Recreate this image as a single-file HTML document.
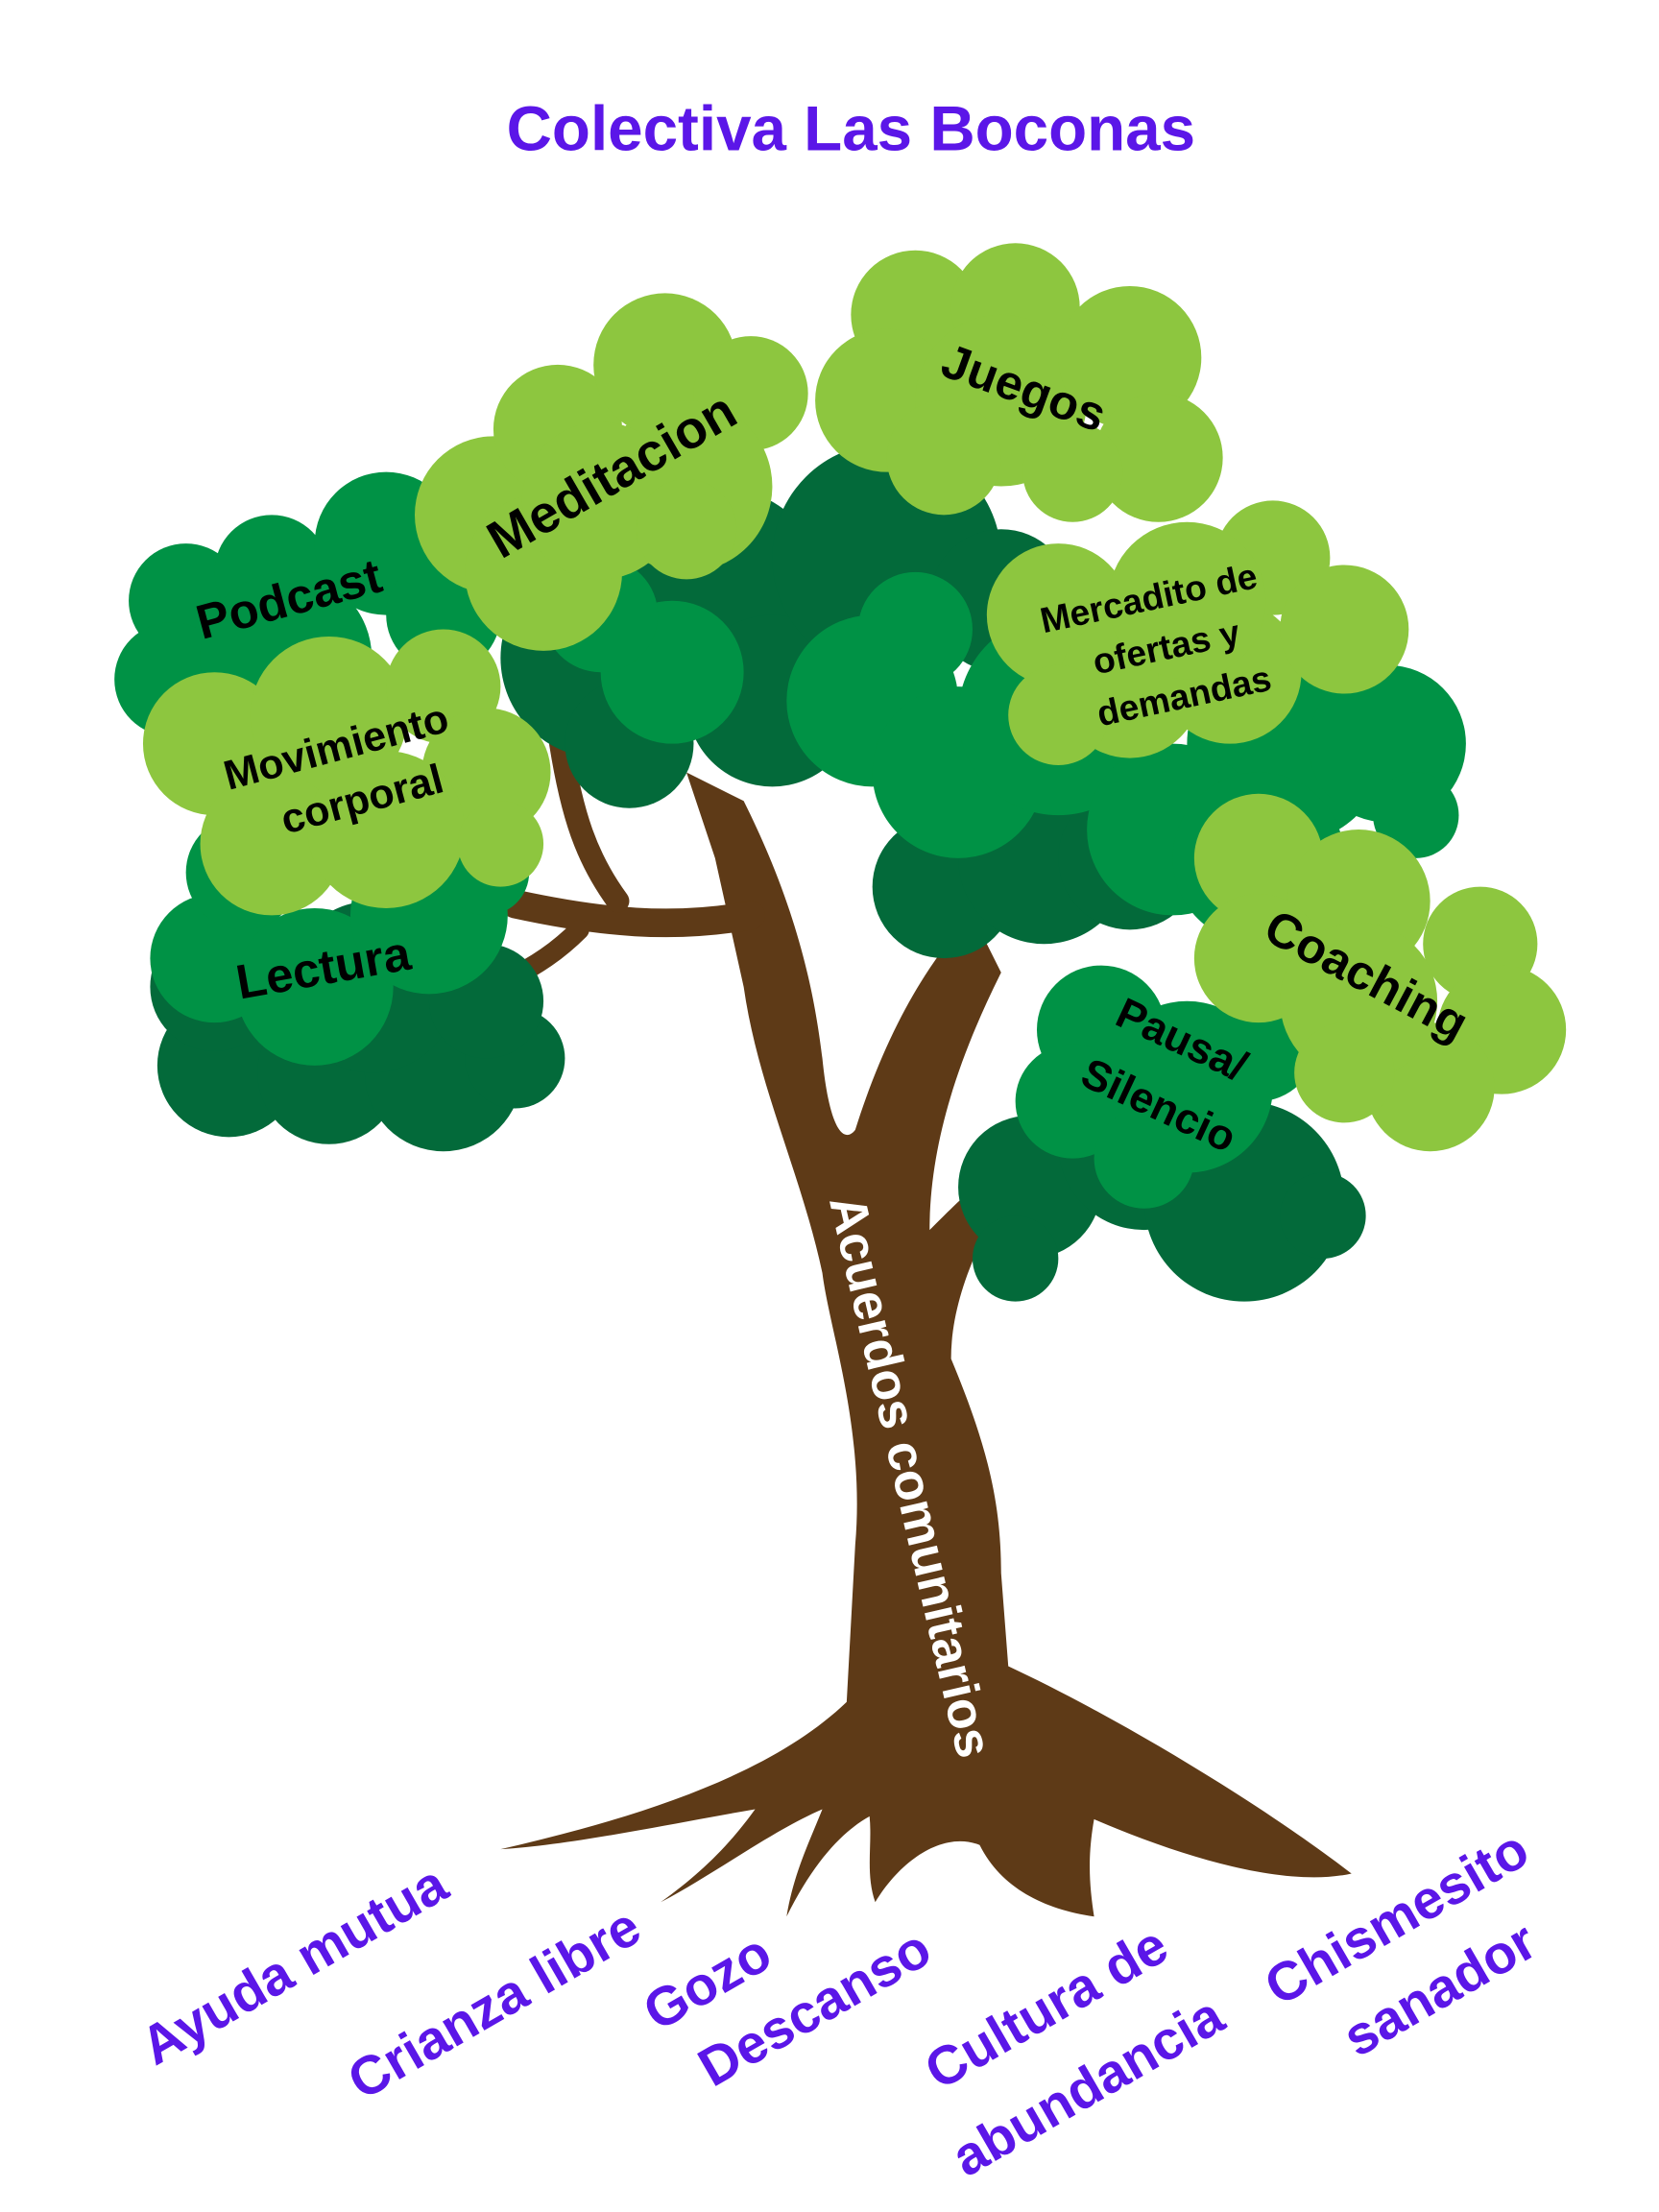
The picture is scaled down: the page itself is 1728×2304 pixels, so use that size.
<!DOCTYPE html>
<html><head><meta charset="utf-8"><style>
html,body{margin:0;padding:0;background:#fff;}
svg{display:block;}
text{font-family:"Liberation Sans","DejaVu Sans",sans-serif;font-weight:bold;}
</style></head><body>
<svg width="1728" height="2304" viewBox="0 0 1160 1546.6" xmlns="http://www.w3.org/2000/svg">
<rect width="1160" height="1546.6" fill="#fff"/>
<text x="595" y="105" font-size="44" fill="#5b16e8" text-anchor="middle">Colectiva Las Boconas</text>

<!-- trunk -->
<g fill="#5e3a17" stroke="#5e3a17" stroke-linecap="round">
<path stroke="none" d="M350,1293 C450,1270 540,1240 592,1190 L598,1080 C605,1000 580,930 575,890 C560,820 530,760 520,690 L500,600 L480,540 L520,560 C560,640 570,700 575,740 C580,790 590,800 598,790 C620,720 650,670 680,640 L700,680 C670,740 650,800 650,860 C670,840 680,830 690,825 L690,860 C675,890 665,920 665,950 C690,1010 700,1050 700,1100 L705,1165 C780,1200 880,1260 945,1310 C900,1320 830,1300 765,1272 C760,1300 762,1320 765,1340 C730,1335 700,1320 685,1290 C660,1280 630,1300 612,1330 C605,1310 610,1290 608,1270 C590,1280 570,1300 550,1340 C555,1310 565,1290 575,1265 C540,1280 500,1310 462,1330 C490,1310 510,1290 528,1265 C470,1275 400,1290 350,1293 Z"/>
<path fill="none" stroke-width="20" d="M525,640 C470,650 420,645 360,632"/>
<path fill="none" stroke-width="16" d="M432,630 C410,600 400,570 392,520"/>
<path fill="none" stroke-width="14" d="M405,650 C390,665 375,675 355,685"/>
</g>

<!-- dark green -->
<g fill="#036a3a">
<circle cx="160" cy="745" r="50"/><circle cx="230" cy="750" r="50"/><circle cx="310" cy="750" r="55"/><circle cx="360" cy="740" r="35"/><circle cx="150" cy="690" r="45"/><circle cx="260" cy="690" r="60"/><circle cx="340" cy="700" r="40"/>
<circle cx="420" cy="460" r="70"/><circle cx="500" cy="420" r="80"/><circle cx="540" cy="490" r="60"/><circle cx="440" cy="520" r="45"/><circle cx="400" cy="400" r="50"/>
<circle cx="620" cy="390" r="80"/><circle cx="700" cy="420" r="50"/><circle cx="660" cy="620" r="50"/><circle cx="730" cy="600" r="60"/><circle cx="790" cy="600" r="50"/>
<circle cx="720" cy="830" r="50"/><circle cx="800" cy="800" r="60"/><circle cx="870" cy="840" r="70"/><circle cx="925" cy="850" r="30"/><circle cx="710" cy="880" r="30"/>
</g>
<!-- mid green -->
<g fill="#009245">
<circle cx="130" cy="420" r="40"/><circle cx="190" cy="400" r="40"/><circle cx="270" cy="380" r="50"/><circle cx="310" cy="430" r="40"/><circle cx="120" cy="475" r="40"/><circle cx="200" cy="460" r="60"/>
<circle cx="150" cy="670" r="45"/><circle cx="220" cy="690" r="55"/><circle cx="300" cy="640" r="55"/><circle cx="170" cy="610" r="40"/><circle cx="340" cy="610" r="30"/>
<circle cx="470" cy="470" r="50"/><circle cx="420" cy="430" r="40"/>
<circle cx="610" cy="490" r="60"/><circle cx="670" cy="540" r="60"/><circle cx="740" cy="500" r="70"/><circle cx="640" cy="440" r="40"/>
<circle cx="900" cy="520" r="70"/><circle cx="970" cy="520" r="55"/><circle cx="990" cy="570" r="30"/><circle cx="820" cy="580" r="60"/><circle cx="880" cy="600" r="60"/>
<circle cx="770" cy="720" r="45"/><circle cx="830" cy="760" r="60"/><circle cx="880" cy="730" r="40"/><circle cx="750" cy="770" r="40"/><circle cx="800" cy="810" r="35"/>
</g>
<!-- light green -->
<g fill="#8dc63f">
<circle cx="345" cy="360" r="55"/><circle cx="390" cy="300" r="45"/><circle cx="465" cy="255" r="50"/><circle cx="525" cy="275" r="40"/><circle cx="480" cy="340" r="60"/><circle cx="380" cy="400" r="55"/><circle cx="420" cy="350" r="55"/><circle cx="480" cy="370" r="35"/>
<circle cx="640" cy="220" r="45"/><circle cx="710" cy="215" r="45"/><circle cx="620" cy="280" r="50"/><circle cx="700" cy="280" r="60"/><circle cx="790" cy="250" r="50"/><circle cx="810" cy="320" r="45"/><circle cx="660" cy="320" r="40"/><circle cx="750" cy="330" r="35"/>
<circle cx="740" cy="430" r="50"/><circle cx="790" cy="480" r="50"/><circle cx="860" cy="470" r="50"/><circle cx="890" cy="390" r="40"/><circle cx="940" cy="440" r="45"/><circle cx="830" cy="420" r="55"/><circle cx="740" cy="500" r="35"/>
<circle cx="150" cy="520" r="50"/><circle cx="230" cy="500" r="55"/><circle cx="310" cy="480" r="40"/><circle cx="340" cy="540" r="45"/><circle cx="190" cy="590" r="50"/><circle cx="270" cy="580" r="55"/><circle cx="350" cy="590" r="30"/>
<circle cx="880" cy="600" r="45"/><circle cx="950" cy="630" r="50"/><circle cx="1035" cy="660" r="40"/><circle cx="1050" cy="720" r="45"/><circle cx="1000" cy="760" r="45"/><circle cx="880" cy="670" r="45"/><circle cx="950" cy="700" r="55"/><circle cx="940" cy="750" r="35"/>
</g>

<!-- labels -->
<g fill="#000" text-anchor="middle">
<text font-size="34" transform="translate(205,430) rotate(-15)">Podcast</text>
<text font-size="37" transform="translate(434,343) rotate(-30)">Meditacion</text>
<text font-size="34" transform="translate(712,282) rotate(20)">Juegos</text>
<g font-size="25" transform="rotate(-12 815 450)">
<text x="810" y="425">Mercadito de</text><text x="815" y="461">ofertas y</text><text x="820" y="497">demandas</text></g>
<g font-size="29" transform="rotate(-15 245 540)">
<text x="240" y="530">Movimiento</text><text x="248" y="570">corporal</text></g>
<text font-size="34" transform="translate(228,688) rotate(-10)">Lectura</text>
<text font-size="34" transform="translate(950,692) rotate(28)">Coaching</text>
<text font-size="30" transform="translate(822,736) rotate(25)">Pausa/</text>
<text font-size="30" transform="translate(806,782) rotate(25)">Silencio</text>
</g>
<text fill="#fff" font-size="36" text-anchor="middle" transform="translate(625,1035) rotate(77)">Acuerdos comunitarios</text>

<g fill="#5b16e8" font-size="38" text-anchor="middle">
<text transform="translate(212,1385) rotate(-30)">Ayuda mutua</text>
<text transform="translate(352,1412) rotate(-30)">Crianza libre</text>
<text transform="translate(501,1397) rotate(-30)">Gozo</text>
<text transform="translate(576,1415) rotate(-30)">Descanso</text>
<text transform="translate(738,1415) rotate(-30)">Cultura de</text>
<text transform="translate(767,1470) rotate(-30)">abundancia</text>
<text transform="translate(983,1352) rotate(-30)">Chismesito</text>
<text transform="translate(1013,1402) rotate(-30)">sanador</text>
</g>
</svg>
</body></html>
